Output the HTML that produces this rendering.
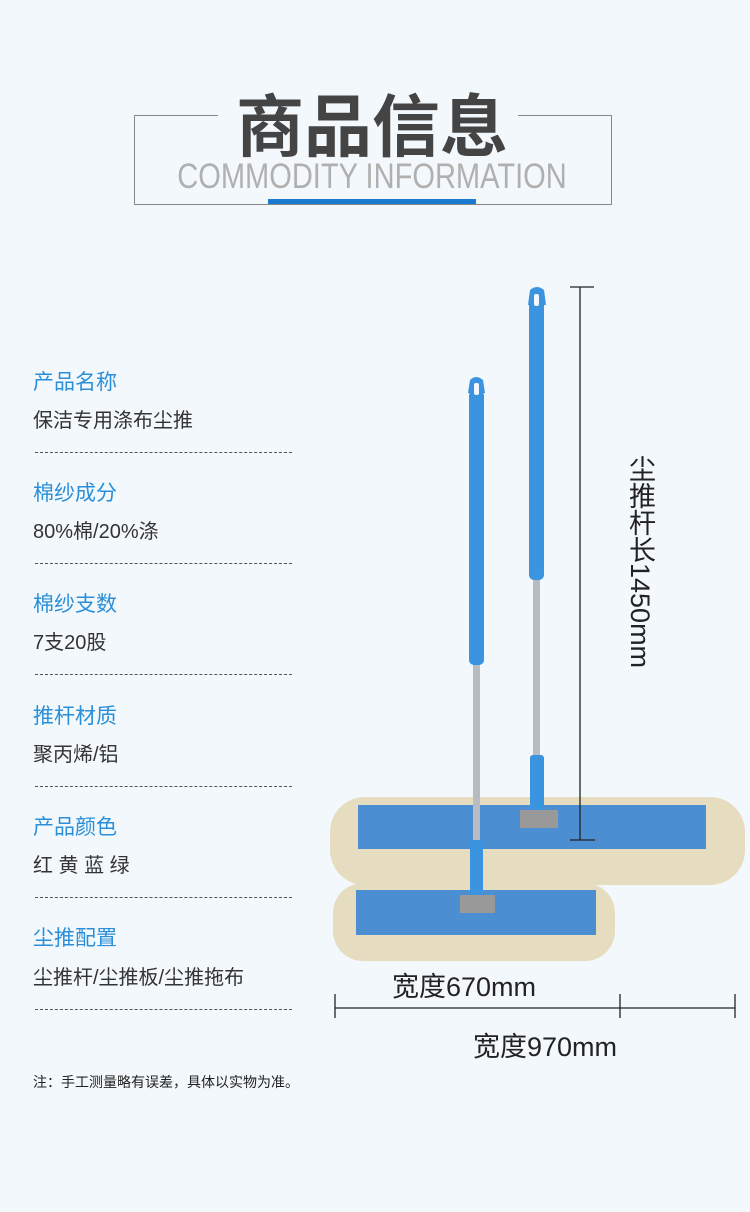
<!DOCTYPE html>
<html><head><meta charset="utf-8"><style>
body{margin:0;width:750px;height:1212px;background:#f3f8fc;position:relative;overflow:hidden;font-family:"Liberation Sans","Noto Sans CJK SC",sans-serif}
.a{position:absolute;white-space:nowrap}
.lb{color:#2a8fd8;font-size:21px;left:33px}
.vl{color:#333;font-size:20px;left:33px}
.dl{position:absolute;left:35px;width:257px;border-top:1px dashed #555}
</style></head><body>
<div class="a" style="left:134px;top:115px;width:84px;border-top:1px solid #888"></div>
<div class="a" style="left:518px;top:115px;width:93px;border-top:1px solid #888"></div>
<div class="a" style="left:134px;top:115px;width:476px;height:89px;border:1px solid #888;border-top:none"></div>
<div class="a" style="left:200px;top:80px;width:344px;text-align:center;font-size:68px;font-weight:bold;color:#444;line-height:84px;font-family:'Noto Sans CJK SC',sans-serif">商品信息</div>
<div class="a" style="left:120px;top:157px;width:504px;text-align:center;font-size:35px;color:#b0b0b0;line-height:40px;transform:scaleX(0.83);transform-origin:center">COMMODITY INFORMATION</div>
<div class="a" style="left:268px;top:199px;width:208px;height:5px;background:#1a7ad0"></div>

<div class="a lb" style="top:366px">产品名称</div><div class="a vl" style="top:404px">保洁专用涤布尘推</div><div class="dl" style="top:452px"></div>
<div class="a lb" style="top:477px">棉纱成分</div><div class="a vl" style="top:515px">80%棉/20%涤</div><div class="dl" style="top:563px"></div>
<div class="a lb" style="top:588px">棉纱支数</div><div class="a vl" style="top:626px">7支20股</div><div class="dl" style="top:674px"></div>
<div class="a lb" style="top:700px">推杆材质</div><div class="a vl" style="top:738px">聚丙烯/铝</div><div class="dl" style="top:786px"></div>
<div class="a lb" style="top:811px">产品颜色</div><div class="a vl" style="top:849px">红 黄 蓝 绿</div><div class="dl" style="top:897px"></div>
<div class="a lb" style="top:922px">尘推配置</div><div class="a vl" style="top:961px">尘推杆/尘推板/尘推拖布</div><div class="dl" style="top:1009px"></div>
<div class="a" style="left:33px;top:1072px;font-size:14px;color:#222">注：手工测量略有误差，具体以实物为准。</div>

<svg class="a" style="left:0;top:0" width="750" height="1212">
<rect x="330" y="797" width="415" height="88" rx="35" fill="#e6dcc0"/>
<rect x="358" y="805" width="348" height="44" fill="#4c8ed2"/>
<rect x="533" y="575" width="7" height="185" fill="#b8bcc2"/>
<rect x="529" y="300" width="15" height="280" rx="5" fill="#3a94e0"/>
<path d="M528 305 L530 290 Q537 284 544 290 L546 305 Z" fill="#3a94e0"/>
<rect x="534" y="294" width="5" height="12" rx="2" fill="#f3f8fc"/>
<rect x="530" y="755" width="14" height="55" rx="3" fill="#3a94e0"/>
<rect x="520" y="810" width="38" height="18" fill="#999"/>
<rect x="333" y="883" width="282" height="78" rx="30" fill="#e6dcc0"/>
<rect x="356" y="890" width="240" height="45" fill="#4c8ed2"/>
<rect x="473" y="660" width="7" height="185" fill="#b8bcc2"/>
<rect x="469" y="390" width="15" height="275" rx="5" fill="#3a94e0"/>
<path d="M468 393 L470 380 Q476 374 483 380 L485 393 Z" fill="#3a94e0"/>
<rect x="474" y="383" width="5" height="12" rx="2" fill="#f3f8fc"/>
<rect x="470" y="840" width="13" height="55" rx="3" fill="#3a94e0"/>
<rect x="460" y="895" width="35" height="18" fill="#999"/>
<line x1="580" y1="287" x2="580" y2="840" stroke="#222" stroke-width="1.3"/>
<line x1="570" y1="287" x2="594" y2="287" stroke="#222" stroke-width="1.3"/>
<line x1="570" y1="840" x2="595" y2="840" stroke="#222" stroke-width="1.3"/>
<line x1="335" y1="1008" x2="735" y2="1008" stroke="#222" stroke-width="1.3"/>
<line x1="335" y1="994" x2="335" y2="1018" stroke="#222" stroke-width="1.3"/>
<line x1="620" y1="994" x2="620" y2="1018" stroke="#222" stroke-width="1.3"/>
<line x1="735" y1="994" x2="735" y2="1018" stroke="#222" stroke-width="1.3"/>
</svg>
<div class="a" style="left:624px;top:455px;writing-mode:vertical-rl;font-size:27px;color:#222;line-height:32px">尘推杆长1450mm</div>
<div class="a" style="left:392px;top:965px;font-size:27px;color:#222">宽度670mm</div>
<div class="a" style="left:473px;top:1025px;font-size:27px;color:#222">宽度970mm</div>
</body></html>
